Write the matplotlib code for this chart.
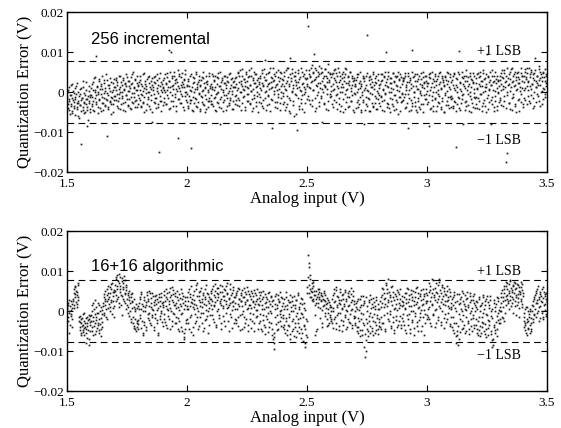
import numpy as np
import matplotlib
matplotlib.use("Agg")
import matplotlib.pyplot as plt

# ---------------- data ----------------
# Two repeated input sweeps per converter, same input grid (1.5 V .. 3.5 V).
x_start, x_stop = 1.5, 3.5
lsb = 2.0 / 256  # 1 LSB in volts
unit = 1e-4       # error values below are in units of 0.1 mV

incremental_sweep_a = [
    -12, -30, 5, -22, -45, -8, 18, -35, -15, -52, 2, -25, -40, 10, -18, -5, -38, 22, -28, -60, -10, -32, 8, -20, -130, -14, -44, 12, -26, -3, -50, -17, 25, -36, -85, -9, -22, 15, -41, -6,
    -8, 20, -30, 5, -45, 35, -15, 0, -25, 92, 12, -38, -5, 28, -20, 8, -48, 15, -12, 40, -28, -2, 22, -35, 10, -18, -110, 30, -8, -42, 18, -22, 3, -30, 25, -14, 6, -50, 32, -10,
    12, -20, 35, -5, 25, -40, 8, -15, 42, 0, -30, 18, -10, 30, -45, 5, 22, -25, 15, -8, 38, -35, 2, 28, -18, 10, -42, 20, -3, 45, -28, 14, -12, 32, -22, 6, -38, 24, -6, 16,
    -15, 30, 5, -35, 20, -8, 45, -25, 10, -50, 28, -2, 15, -30, 38, -12, 0, 22, -42, 8, -20, 35, -75, 12, -5, 25, -28, 42, -15, 3, 30, -38, 18, -150, -10, 48, -22, 6, 20, -32,
    10, -25, 35, 0, 22, -30, 48, 5, -15, 105, 28, -40, 12, 100, -8, 40, 18, -22, 52, -5, 30, -35, 8, 25, -115, 15, -18, 45, 2, -28, 38, 12, -10, 20, -45, 32, 0, 55, -20, 15,
    -5, 28, -35, 15, -20, 40, 2, -140, -45, 22, -12, 35, -28, 8, 45, -18, 12, -38, 25, -2, 30, -48, 18, -10, 38, -25, 5, 50, -32, 14, -8, 26, -42, 20, 0, -22, 42, -15, 10, -30,
    20, -30, 8, 42, -15, 30, -45, 12, -5, 38, -25, 0, 48, -38, 15, -80, 25, -12, 35, -48, 5, 22, -20, 40, -8, 18, -35, 28, -2, 45, -28, 10, -15, 32, -42, 2, 25, -22, 14, -10,
    12, -20, 38, 5, 48, -15, 25, -35, 55, 0, 20, -28, 42, 8, -10, 32, -45, 15, 50, -5, 28, -22, 10, 40, -30, 18, 2, 60, -18, 35, -40, 22, -8, 45, 12, -25, 30, 0, -50, 20,
    25, -12, 42, 5, -35, 55, 18, -20, 38, 80, 0, 30, -45, 15, 48, -8, 22, -30, 60, 10, -18, 35, -90, 28, 2, 45, -25, 12, 52, -40, 20, -5, 38, 8, -28, 50, 15, -15, 32, -2,
    -10, 40, 15, -45, 55, 5, 28, -30, 62, -15, 20, 85, -52, 35, 0, 48, -22, 10, -60, 30, 42, -8, 18, -95, 25, 55, -35, 12, 38, -18, 2, 50, -42, 22, -5, 45, 8, -28, 32, 15,
    20, 165, 45, -20, 38, 10, 60, -35, 28, 5, 50, 95, -15, 32, 55, -40, 15, 42, 0, -25, 65, 22, -10, 48, 8, -75, 35, 18, -30, 58, 12, 40, -5, 25, -45, 52, 30, -12, 45, 2,
    15, -30, 48, 5, 35, -20, 58, -8, 25, -42, 40, 10, -15, 52, 0, 30, -35, 20, 45, -50, 12, 38, -5, 60, -25, 22, 8, 42, -38, 28, -12, 50, 2, -22, 35, 18, -45, 30, -2, 15,
    -5, 30, -25, 45, 8, -38, 22, -12, 50, -45, 15, 0, 35, -20, 28, -80, 10, 42, -30, 5, 143, -15, 38, -48, 20, -2, 32, -28, 12, 45, -35, 18, -10, 25, -42, 40, 2, -18, 30, -8,
    10, -35, 28, -10, 45, -22, 5, 40, -48, 18, -2, 100, 32, -28, 12, 50, -40, 22, -15, 35, 0, -30, 48, 8, -45, 25, -8, 38, -20, 15, 42, -55, 2, 30, -12, 45, -25, 20, -5, 35,
    -20, 35, -5, 42, -38, 12, 25, -90, 48, -15, 5, 30, -45, 20, 105, -28, 38, 0, -12, 45, -35, 15, 28, -50, 8, -22, 40, 2, -42, 32, -8, 18, 50, -30, 10, 25, -18, 42, -5, 22,
    15, -25, 38, -85, 5, 48, -40, 22, -10, 32, -48, 12, 45, -18, 28, 0, -35, 40, -5, 20, -28, 52, 8, -42, 35, -15, 25, -50, 18, 42, -8, 30, -22, 2, 48, -32, 12, -12, 38, -38,
    -10, 30, -40, 18, 45, -22, 5, -137, 35, -30, 12, 50, 103, -15, 25, -45, 2, 38, -8, 20, -80, 42, -25, 10, 55, -35, 28, -5, 15, -48, 40, 0, -18, 32, -28, 22, 48, -12, 8, -40,
    22, -30, 45, 8, -15, 38, -42, 15, 52, -5, 28, -35, 0, 48, -20, 12, 35, -50, 20, 95, -8, 42, -25, 5, 30, -80, 18, 55, -12, 25, -38, 40, 2, -22, 32, 10, -45, 28, -2, 15,
    30, -20, 48, 5, 38, -35, 15, 55, -10, 25, 42, -175, -153, 0, 35, -28, 20, 50, -42, 12, 60, -15, 28, -5, 45, -30, 18, 38, -50, 8, 52, 22, -18, 32, 2, 48, -25, 40, 10, -38,
    25, -15, 50, 10, 38, -30, 60, 5, 28, -22, 45, 15, -8, 55, 20, -40, 35, 0, 48, 85, 12, -25, 40, 22, -10, 58, 30, -35, 18, 45, 2, 38, -18, 52, 8, 28, -5, 42, 15, 25,
]

incremental_sweep_b = [
    -25, 0, -40, -18, 12, -55, -30, -8, -47, 20, -20, -35, -2, -58, -12, 15, -28, -42, 0, -22, -65, -5, -33, 10, -48, -15, 28, -38, -24, -52, -8, -30, 5, -44, -18, -70, 2, -27, -50, -12,
    10, -35, -12, 25, -22, -48, 5, 38, -30, -8, 15, -52, 0, -18, 33, -40, -5, 20, -28, 8, -45, 30, -15, 2, -32, 45, -20, -3, 18, -38, 10, -25, 35, -12, -55, 0, 22, -30, 12, -20,
    -10, 30, 5, -35, 18, -22, 40, -5, 12, -42, 25, -15, 0, 35, -28, 8, -48, 20, -8, 45, -18, 28, -32, 2, 15, -40, 38, -12, 22, -25, 50, -2, 10, -38, 30, -20, 5, 42, -30, 18,
    25, -20, 40, -5, -38, 15, 2, -28, 48, -12, 20, -45, 8, 32, -18, 0, 42, -35, 12, -8, 28, -50, 18, 5, -25, 38, -15, 22, -40, 10, 45, -30, -2, 35, -22, 15, -48, 25, 0, 12,
    30, -15, 5, 45, -30, 20, -8, 38, 12, -42, 28, 0, 50, -22, 15, 35, -35, 8, 42, -12, 22, -48, 32, 2, 55, -18, 10, 40, -28, 18, -5, 48, 25, -38, 12, 30, -10, 45, 0, -25,
    18, -40, 32, -10, 5, -28, 45, -20, 12, 38, -48, 0, 25, -15, 50, -35, 8, 20, -25, 42, -5, 15, -42, 30, -12, 2, 35, -30, 22, -50, 10, 40, -18, 28, -38, 5, 48, -22, 15, -8,
    -22, 12, 45, -35, 5, 28, -12, 40, -48, 20, -2, 35, -28, 15, 50, -18, 8, -40, 30, 0, -25, 42, -8, 22, -45, 10, 38, -15, 25, -32, 2, 48, -20, 18, -5, 35, -42, 12, 28, -30,
    35, -8, 20, -32, 52, 10, -20, 42, 0, 28, -45, 15, 58, -12, 32, 5, -38, 25, 45, -22, 12, 38, -5, 55, -28, 18, 40, 2, -48, 30, 8, 50, -15, 22, -35, 45, 15, -10, 35, -25,
    -5, 35, 10, -28, 48, 22, -40, 15, 58, -15, 30, 2, 45, -32, 20, -10, 52, 8, -48, 38, 25, -20, 12, 62, -5, 30, -38, 42, 18, -25, 5, 55, -12, 28, -45, 35, 0, 48, 20, -30,
    30, -25, 50, 8, -38, 22, 60, -10, 38, -48, 15, 45, -20, 28, 2, 58, -32, 18, 40, -5, 52, -55, 25, 10, -15, 48, -42, 32, 5, 62, -28, 20, -8, 42, 12, -50, 35, 0, 55, -18,
    35, -10, 55, 12, -30, 42, 25, 68, -20, 48, 5, 30, -48, 60, 18, 38, -8, 52, 22, -35, 45, 10, 62, -15, 28, 50, 0, 40, -28, 58, 15, -42, 35, 8, 70, -22, 25, 48, -5, 38,
    -10, 45, 20, -38, 55, 8, 30, -25, 48, 15, -5, 62, -30, 25, 40, -48, 12, 35, 0, 52, -18, 28, -42, 45, 5, 58, -12, 22, 38, -35, 18, 50, -22, 10, 42, -8, 28, -50, 35, 20,
    15, -40, 38, 0, -20, 45, -30, 10, 28, -50, 20, -8, 42, -25, 5, 35, -45, 18, -12, 48, -35, 2, 30, -18, 40, -48, 12, -5, 25, -38, 50, 8, -28, 35, -15, 22, -42, 45, -2, 18,
    -28, 20, 45, -12, 30, -45, 8, 38, -20, 52, -5, 25, -38, 15, 42, -30, 0, 35, -50, 22, 10, -18, 48, -35, 28, -8, 40, -42, 18, 5, -25, 50, -12, 32, -48, 12, 38, -2, -22, 28,
    30, -12, 48, -40, 18, 5, -28, 42, -5, 25, -48, 35, 10, -20, 52, -35, 15, 0, 40, -25, 28, -45, 8, 45, -15, 32, -38, 20, -2, 48, -30, 12, 38, -50, 22, -8, 42, -18, 28, 2,
    -30, 22, 45, -8, 35, -42, 12, -20, 50, 0, -35, 28, 40, -15, 18, -48, 32, 5, -25, 48, -10, 25, -38, 10, 42, -22, 30, -50, 15, -2, 38, -32, 20, 52, -12, 28, -40, 8, 45, -18,
    25, -15, 40, -35, 10, 48, -25, 18, -48, 32, 0, -12, 45, -40, 22, 8, -28, 50, -18, 35, -5, 15, -45, 28, 42, -22, 5, 38, -32, 20, -10, 48, -50, 12, 30, -38, 25, -2, 40, -15,
    -12, 35, 10, -40, 48, 20, -22, 42, -5, 28, -48, 15, 55, -28, 32, 2, -35, 45, 12, -15, 38, -42, 25, 8, 50, -20, 18, -30, 42, 5, -48, 28, 52, -10, 22, -35, 40, 0, 30, -25,
    -15, 42, 20, -32, 55, 8, 35, -22, 48, 12, -40, 28, 62, -8, 18, 45, -28, 32, 2, 58, -45, 25, 40, -12, 15, 52, -35, 30, 5, 48, -20, 38, 22, -48, 12, 60, -5, 28, 42, -30,
    40, 5, 58, -20, 32, 15, 48, -10, 25, 62, -28, 38, 8, 52, 20, -15, 45, 30, -35, 55, 12, 28, -5, 42, 18, 65, -22, 35, 50, 0, 28, -30, 48, 10, 38, 58, -12, 22, 45, 30,
]

algorithmic_sweep_a = [
    5, -15, 20, 0, -55, 12, -8, 25, -20, 8, 30, 55, 15, 42, 60, 22, 48, 10, 35, 70, -25, -40, -12, -55, -30, -18, -48, -35, -5, -60, -30, -45, -80, -15, -38, -22, -70, -10, -50, -28,
    -10, -40, 15, -25, -60, 5, -30, 28, -15, -50, -5, -35, 20, -20, -55, 0, -45, 10, -28, -8, 12, 35, -10, 25, 50, 5, 40, -20, 30, 62, 18, 45, 0, 55, 22, 70, 8, 38, -15, 48,
    50, 80, 25, 62, 90, 35, 70, 10, 55, 85, 40, 75, -10, 60, 30, 88, 45, 20, 65, 52, 15, 40, -5, 28, 50, 0, 35, -20, 22, 45, -30, 10, -38, 5, -45, 18, -25, -40, 12, -32,
    20, -10, 35, 5, 48, -25, 12, -60, -35, 28, 0, -48, 15, 40, -18, 25, -5, 50, -30, 10, 32, -15, 45, 2, -40, 22, -8, 38, 18, -22, 30, -55, 8, 42, -12, 25, 0, 35, -28, 15,
    10, -20, 40, 25, -35, 55, 5, 30, -12, 48, 18, -45, 35, 0, 60, -25, 22, 42, -8, 15, 38, -30, 8, 50, -18, 28, 2, -50, 32, 12, -40, 45, -5, 20, -70, -55, 15, 35, -22, 5,
    -20, 25, 48, -45, 12, 35, -10, 62, 20, -60, 40, 5, 28, -30, 55, 15, -15, 70, 0, 38, -38, 22, 50, -5, 30, 10, -50, 45, 18, -22, 35, 2, 65, -12, 25, 42, -35, 8, 30, 15,
    30, 5, 55, -20, 40, 12, 68, 22, -35, 45, 0, 35, 58, -10, 25, 48, -45, 15, 62, 8, 38, -25, 28, 52, 18, -5, 42, 70, 10, -50, 32, 20, 55, -15, 45, 2, 25, 60, -30, 35,
    20, -30, 45, 5, 58, -15, 30, 12, -48, 40, 25, -8, 52, 0, 35, -40, 18, 48, -20, 28, 60, 8, -35, 42, 15, -5, 30, 50, -25, 22, 38, -50, 10, 45, 2, 25, -12, 55, 18, 32,
    15, -25, 40, -45, 5, 30, -10, 50, -35, 20, -58, 10, 35, -20, 45, -5, 25, -40, 0, 38, -30, 12, -60, 28, -95, -65, 18, -15, 42, -48, 8, 30, -28, 22, -8, 48, -38, 2, 32, -18,
    -10, 30, -45, 12, -25, 48, -60, 5, -35, 22, -15, 40, -70, 0, 25, -50, 15, -20, 38, -40, 8, -65, 28, -5, -30, 45, -55, 10, -18, 32, -45, 18, -8, -75, 20, -38, 2, -90, -60, -25,
    60, 140, 45, 110, 80, 55, 35, 70, 48, 25, 62, 40, 15, -60, 50, 30, -45, 42, 20, 55, 35, 8, 45, 25, -30, 38, 12, 50, 28, -5, 40, 18, -20, 32, 5, -35, 22, -10, 15, -25,
    10, -30, 40, 0, 55, -20, 25, -45, 60, 15, -10, 35, -38, 20, 48, -5, 28, -50, 8, 42, -25, 18, 52, -15, 30, 2, -40, 45, 12, -28, 35, -8, 22, 58, -35, 5, 38, -18, 25, 0,
    -15, 20, -40, 5, -55, 30, -25, 10, -48, 38, -5, -60, 15, -30, 25, -90, -115, -20, 35, -45, 0, -62, 22, -12, 40, -38, 8, -50, 18, -25, 32, -8, -55, 12, -35, 28, -18, -45, 5, -28,
    -20, 25, -45, 10, 40, -30, 55, -10, 30, -50, 18, 65, -5, 45, 80, 22, -25, 35, 0, 60, -38, 15, 48, -15, 28, -48, 8, 38, -22, 52, 2, -35, 20, 42, -12, 30, -42, 12, 25, -8,
    15, -35, 45, 5, -55, 30, 58, -20, 22, -8, 40, -45, 12, 52, -28, 35, 0, -60, 25, 48, -12, 18, 60, -38, 8, 32, -22, 42, -5, 28, -50, 15, 55, -15, 38, 2, -30, 45, 20, -10,
    25, -15, 48, 10, 62, -30, 35, 80, 18, 55, -8, 40, -40, 28, 70, 5, 45, -22, 30, 80, 12, 52, -35, 22, 65, 0, 38, -18, 58, 15, 42, -28, 25, 50, -5, 35, 8, -38, 48, 20,
    10, -40, 35, -15, 48, -55, 22, 0, -30, 42, -60, -85, -70, 18, -20, 30, 5, -45, 50, -10, 25, -35, 12, 40, -50, 2, 32, -25, 15, -58, 45, -5, 28, -38, 8, 38, -18, 20, -42, 0,
    -20, 25, -45, 5, -60, 35, -15, -38, 12, -55, 20, -28, 40, -5, -50, 15, -32, 30, -65, -10, 22, -42, 8, -25, 38, -58, 0, -18, -90, -70, 28, -35, 10, -48, 18, -12, -62, 32, -22, 2,
    0, -30, 20, 45, -15, 35, 10, 55, -25, 28, 62, 15, 40, 70, 25, 50, 5, 75, 38, 58, 20, 48, 65, 30, 72, 12, 55, 35, -10, 68, 42, 22, 60, 8, 48, 30, 72, 18, 52, 38,
    -15, -40, 5, -30, -55, -20, 10, -45, -25, -8, -35, 0, -50, -18, 15, -28, 25, -10, 35, 5, 45, -15, 20, 55, 0, 30, -25, 48, 12, 38, -5, 22, 60, -20, 15, 42, 2, 30, -12, 25,
]

algorithmic_sweep_b = [
    10, -25, 15, -5, 28, -35, 2, -12, 18, -40, 25, 45, 8, 62, 35, 50, 18, 40, 65, 28, -15, -48, -28, -60, -20, -38, -8, -52, -42, -25, -40, -55, -18, -68, -30, -48, -20, -85, -35, -12,
    -25, 0, -50, -15, 20, -38, -8, -58, -22, 10, -42, -30, -5, -48, 15, -32, -62, -18, 2, -40, 20, -5, 42, 15, 30, -15, 55, 25, 8, 45, 35, 60, 10, 28, 68, -8, 48, 25, 52, 12,
    65, 40, 85, 30, 55, 75, 20, 92, 48, 62, 15, 82, 38, 70, 55, 25, 78, 42, 5, 60, 30, 10, 45, -12, 35, 20, -28, 42, 8, 25, -15, 30, -42, -20, 0, -50, -30, 8, -45, -22,
    5, 30, -18, 42, -42, 18, 0, -55, -28, 35, 10, -40, 22, 48, -8, 30, -22, 12, 45, -35, 20, 5, -10, 38, -48, 15, 28, -18, 40, 2, -30, 22, -60, 35, 12, -20, 45, -5, 20, -38,
    22, -8, 50, -28, 35, 12, -42, 45, 2, 25, -20, 58, 8, 40, -38, 28, -5, 52, 15, -30, 45, 20, -15, 35, -45, 10, 42, -25, 18, 55, -8, 30, -50, 38, 5, -65, -45, 25, -30, 12,
    35, -30, 5, 55, -15, 42, 22, -52, 30, 10, -40, 50, 18, -8, 65, -25, 38, 8, -45, 28, 48, -15, 12, 58, -30, 22, 40, -5, -42, 30, 55, -20, 15, 45, 0, -55, 35, 20, -10, 50,
    45, -10, 25, 62, -28, 15, 50, 35, -40, 28, 58, 5, 42, -18, 20, 65, 30, -30, 48, 12, -12, 55, 38, -38, 25, 62, 8, 45, -25, 30, 15, 68, -8, 40, 22, -42, 52, 12, 35, -20,
    5, 40, -22, 50, 18, -38, 30, 55, -10, 25, 45, -45, 12, 35, -15, 58, 22, -30, 42, 5, 28, -50, 50, 15, -20, 38, 8, -42, 45, 25, -8, 52, -30, 18, 40, -15, 30, 2, -45, 48,
    -30, 25, -8, 48, -50, 15, 35, -22, 5, 42, -40, 22, -12, 30, -52, 10, 48, -28, 18, -5, 35, -45, 25, -70, -55, -80, 5, 38, -32, 15, -10, 40, -45, 25, 0, -25, 35, -15, 12, -40,
    20, -35, 5, -55, 35, -18, 15, -48, 28, -8, -38, 22, -58, 10, -25, 35, -45, 0, -62, 15, -30, 28, -12, -50, 40, -20, 5, -40, 20, -68, -5, 30, -55, -15, -35, 8, -80, -45, -20, -65,
    45, 85, 120, 65, 35, 90, 50, 28, 58, 72, 30, 50, -10, 40, 20, -50, 35, 55, 10, 30, 48, -18, 28, 40, 2, -40, 30, 15, 45, -12, 25, 8, -38, 20, -5, 28, -30, 10, -15, 0,
    -20, 30, 8, -42, 45, 22, -15, 52, -30, 10, 38, -5, 28, -48, 18, 55, -22, 40, 5, -35, 30, 12, -10, 48, -45, 25, 0, 38, -20, 50, 15, -30, 42, 2, -42, 28, 50, -12, 18, -35,
    -30, 10, -50, 25, -18, -40, 2, -62, 30, -20, 15, -48, -8, 38, -35, 20, -58, -72, -100, -30, 12, -50, 28, -25, -5, -55, 30, -15, -42, 10, -60, 22, -28, 5, -48, 35, -10, -58, 18, -38,
    5, -40, 35, -15, 58, 20, -30, 45, 10, -45, 32, 70, 12, 55, 28, -20, 48, -8, 40, -42, 25, 62, -28, 35, 5, -55, 42, 18, -12, 30, -40, 48, 8, -25, 55, 15, -35, 38, -18, 22,
    -25, 35, 8, -48, 20, 45, -10, 55, -35, 30, 12, -55, 42, 0, 28, -22, 50, -42, 15, 35, -5, 58, -28, 22, 45, -50, 10, 38, -15, 52, 2, -38, 30, 18, -60, 42, -8, 25, 55, -20,
    40, 5, 70, -20, 52, 25, -38, 45, 15, 78, -10, 35, 58, 2, -30, 48, 22, 65, -15, 38, 72, 8, 45, -28, 30, 60, 18, -42, 50, 25, -8, 40, 62, -20, 28, 12, 55, -32, 38, 5,
    -15, 30, -48, 15, 40, -30, 8, -62, -80, -50, 25, -38, 42, -8, 20, -52, 35, 0, -25, 45, -42, 18, 5, -55, 30, -15, 48, -30, 10, -45, 22, 38, -20, 0, -50, 28, -10, 42, -35, 15,
    -35, 10, -55, 22, -25, -48, 30, 0, -62, 15, -40, -15, 35, -30, 5, -58, 25, -45, -8, 38, -22, -60, 15, -35, 28, -12, -50, 5, -72, -85, -40, 20, -55, 0, -28, 35, -45, -5, 25, -30,
    10, -20, 35, 0, 52, -18, 25, 45, 62, -5, 38, 72, 30, 55, 20, 68, 45, 28, 78, 12, 52, 35, 62, -5, 45, 70, 25, 58, 40, 15, 65, 32, 50, -15, 42, 60, 25, 68, 10, 45,
    -25, -5, -48, -35, 10, -60, -28, 0, -42, -15, -55, 5, -30, -45, 0, -20, 12, 30, -8, 40, 20, 50, -5, 28, 62, 10, 35, -18, 42, 25, 55, 0, 32, -15, 48, 18, 38, -8, 45, 22,
]

panel_titles = ["256 incremental", "16+16 algorithmic"]
x_ticks = [1.5, 2, 2.5, 3, 3.5]
x_tick_labels = ["1.5", "2", "2.5", "3", "3.5"]
y_ticks = [-0.02, -0.01, 0, 0.01, 0.02]
y_tick_labels = ["\u22120.02", "\u22120.01", "0", "0.01", "0.02"]

# ---------------- plot ----------------
serif = "Liberation Serif"
sans = "Liberation Sans"

fig = plt.figure(figsize=(5.61, 4.28), dpi=100)
left, width = 67 / 561, 480 / 561
ax_top = fig.add_axes([left, 1 - 172 / 428, width, 159.5 / 428])
ax_bot = fig.add_axes([left, 1 - 391 / 428, width, 160 / 428])

panels = [
    (ax_top, (incremental_sweep_a, incremental_sweep_b), (1.6, 0.0133), (3.21, 0.0101), (3.21, -0.0121)),
    (ax_bot, (algorithmic_sweep_a, algorithmic_sweep_b), (1.6, 0.0111), (3.21, 0.0098), (3.21, -0.0112)),
]

for (ax, sweeps, title_pos, plus_pos, minus_pos), title in zip(panels, panel_titles):
    for err in sweeps:
        y = np.asarray(err, dtype=float) * unit
        x = np.linspace(x_start, x_stop, len(y))
        ax.plot(x, y, linestyle="none", marker="s", ms=1.25, mfc="#1e1e1e", mec="none")
    ax.axhline(lsb, color="k", lw=0.8, ls=(0, (6, 4)))
    ax.axhline(-lsb, color="k", lw=0.8, ls=(0, (6, 4)))
    ax.set_xlim(x_start, x_stop)
    ax.set_ylim(-0.02, 0.02)
    ax.set_xticks(x_ticks)
    ax.set_xticklabels(x_tick_labels, family=serif, fontsize=9.5)
    ax.set_yticks(y_ticks)
    ax.set_yticklabels(y_tick_labels, family=serif, fontsize=9.5)
    ax.tick_params(direction="in", length=4, width=0.8, top=True, right=True)
    ax.tick_params(axis="y", pad=2)
    ax.tick_params(axis="x", pad=4)
    for s in ax.spines.values():
        s.set_linewidth(1.0)
    ax.set_xlabel("Analog input (V)", family=serif, fontsize=12, labelpad=1)
    ax.set_ylabel("Quantization Error (V)", family=serif, fontsize=12, labelpad=0)
    ax.text(title_pos[0], title_pos[1], title, family=sans, fontsize=12,
            ha="left", va="center")
    ax.text(plus_pos[0], plus_pos[1], "+1 LSB", family=serif, fontsize=10,
            ha="left", va="center")
    ax.text(minus_pos[0], minus_pos[1], "\u22121 LSB", family=serif, fontsize=10,
            ha="left", va="center")

fig.savefig("out.png", dpi=100)
